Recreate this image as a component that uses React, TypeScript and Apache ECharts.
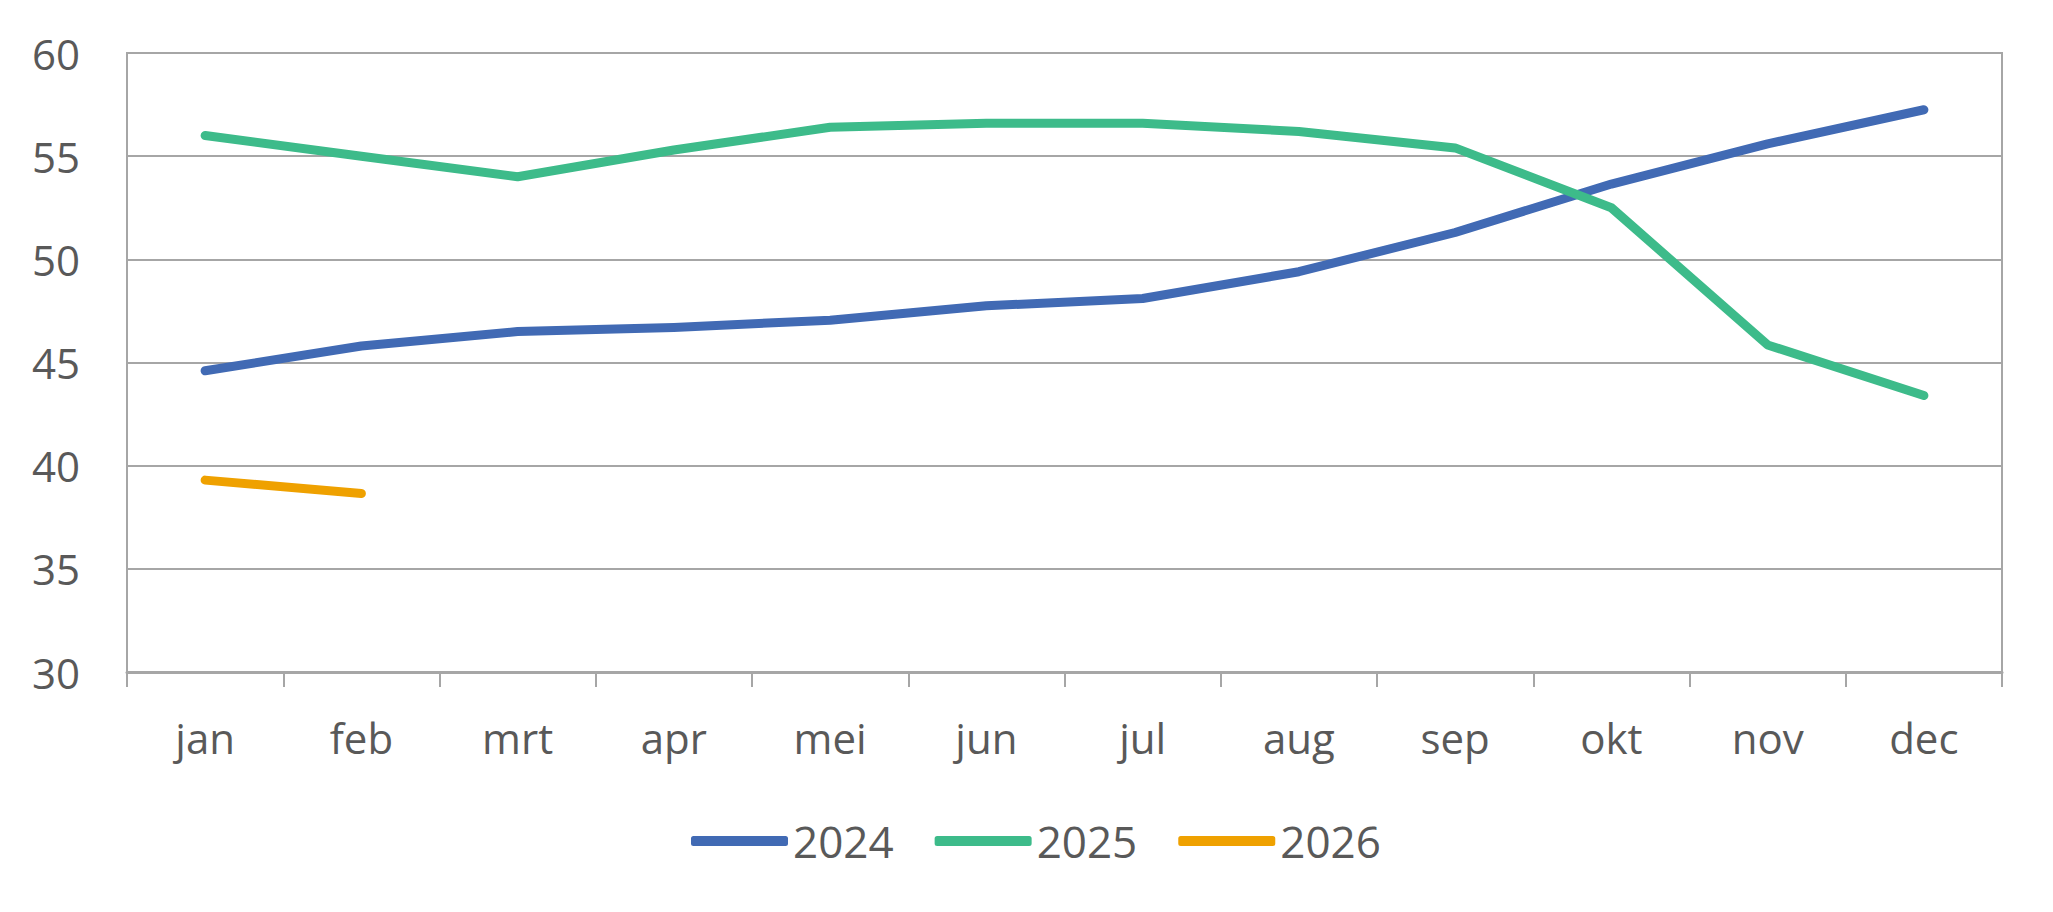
import React, { useEffect, useRef } from "react";
import * as echarts from "echarts";

const months = ["jan", "feb", "mrt", "apr", "mei", "jun", "jul", "aug", "sep", "okt", "nov", "dec"];
const s2024 = [44.6, 45.8, 46.5, 46.7, 47.05, 47.75, 48.1, 49.4, 51.3, 53.65, 55.6, 57.25];
const s2025 = [56.0, 55.0, 54.0, 55.3, 56.4, 56.6, 56.6, 56.2, 55.4, 52.5, 45.85, 43.4];
const s2026 = [39.3, 38.65, null, null, null, null, null, null, null, null, null, null];
const seriesNames = ["2024", "2025", "2026"];
const colors = ["#416AB4", "#3DBB8A", "#EFA100"];

export default function App() {
  const ref = useRef<HTMLDivElement>(null);
  useEffect(() => {
    if (!ref.current) return;
    const chart = echarts.init(ref.current, null, { renderer: "svg" });
    const data = [s2024, s2025, s2026];
    chart.setOption({
      animation: false,
      backgroundColor: "#ffffff",
      color: colors,
      grid: {
        left: 127,
        right: 51,
        top: 53,
        bottom: 240,
        show: true,
        borderColor: "#A6A6A6",
        borderWidth: 2,
      },
      legend: {
        left: 686,
        top: 814,
        itemWidth: 97,
        itemHeight: 10,
        itemGap: 41,
        icon: "roundRect",
        textStyle: {
          fontFamily: "'Open Sans', sans-serif",
          fontSize: 44,
          color: "#595959",
        },
        data: seriesNames,
      },
      xAxis: {
        type: "category",
        data: months,
        boundaryGap: true,
        axisLine: { show: true, lineStyle: { color: "#A6A6A6", width: 3 } },
        axisTick: { show: true, length: 15, lineStyle: { color: "#A6A6A6", width: 2 } },
        axisLabel: {
          margin: 44,
          fontFamily: "'Open Sans', sans-serif",
          fontSize: 42,
          color: "#595959",
        },
        splitLine: { show: false },
      },
      yAxis: {
        type: "value",
        min: 30,
        max: 60,
        interval: 5,
        axisLine: { show: false },
        axisTick: { show: false },
        axisLabel: {
          margin: 47,
          fontFamily: "'Open Sans', sans-serif",
          fontSize: 42,
          color: "#595959",
        },
        splitLine: { show: true, lineStyle: { color: "#A6A6A6", width: 2 } },
      },
      series: seriesNames.map((name, i) => ({
        name,
        type: "line",
        data: data[i],
        symbol: "none",
        connectNulls: false,
        lineStyle: { width: 9, color: colors[i], cap: "round", join: "round" },
        itemStyle: { color: colors[i] },
      })),
    });
    return () => chart.dispose();
  }, []);
  return (
    <div
      ref={ref}
      style={{ position: "absolute", left: 0, top: 0, width: 2053, height: 912 }}
    />
  );
}
